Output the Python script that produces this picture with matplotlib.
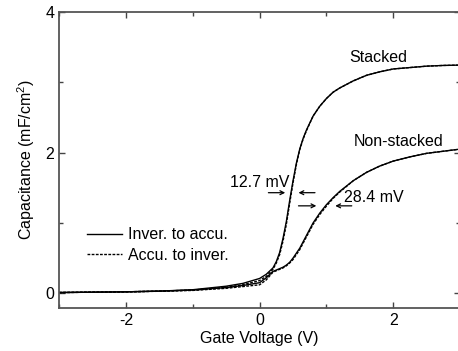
import matplotlib
matplotlib.use("Agg")
import matplotlib.pyplot as plt
from matplotlib.ticker import MultipleLocator

plt.rcParams['font.family'] = ['Liberation Sans', 'DejaVu Sans']
plt.rcParams['mathtext.default'] = 'regular'
plt.rcParams['axes.unicode_minus'] = False

# Gate voltage sweep (V)
voltage = [-3.0, -2.5, -2.0, -1.5, -1.0, -0.5, -0.25, 0.0, 0.1, 0.2, 0.25, 0.3,
           0.35, 0.4, 0.45, 0.5, 0.55, 0.6, 0.65, 0.7, 0.8, 0.9, 1.0, 1.1,
           1.2, 1.4, 1.6, 1.8, 2.0, 2.25, 2.5, 2.75, 3.0]

# Stacked device capacitance (mF/cm^2)
stacked_inv_to_acc = [0.01, 0.015, 0.02, 0.03, 0.05, 0.10, 0.14, 0.21, 0.27, 0.36, 0.45, 0.58,
                      0.78, 1.02, 1.32, 1.60, 1.85, 2.05, 2.20, 2.32, 2.52, 2.66, 2.77, 2.86,
                      2.92, 3.02, 3.10, 3.15, 3.19, 3.21, 3.23, 3.24, 3.245]
stacked_acc_to_inv = [0.01, 0.015, 0.02, 0.03, 0.045, 0.085, 0.12, 0.18, 0.24, 0.34, 0.43, 0.55,
                      0.74, 0.98, 1.28, 1.57, 1.83, 2.04, 2.19, 2.31, 2.52, 2.66, 2.77, 2.86,
                      2.92, 3.02, 3.10, 3.15, 3.19, 3.21, 3.23, 3.24, 3.245]

# Non-stacked device capacitance (mF/cm^2)
nonstacked_inv_to_acc = [0.01, 0.015, 0.02, 0.03, 0.045, 0.08, 0.11, 0.15, 0.22, 0.31, 0.33, 0.35,
                         0.37, 0.40, 0.44, 0.50, 0.57, 0.64, 0.73, 0.82, 1.00, 1.14, 1.26, 1.36,
                         1.45, 1.60, 1.72, 1.81, 1.88, 1.94, 1.99, 2.02, 2.05]
nonstacked_acc_to_inv = [0.01, 0.015, 0.02, 0.028, 0.04, 0.07, 0.095, 0.12, 0.19, 0.30, 0.32, 0.34,
                         0.36, 0.39, 0.43, 0.48, 0.55, 0.62, 0.71, 0.80, 0.98, 1.12, 1.24, 1.35,
                         1.44, 1.60, 1.72, 1.81, 1.88, 1.94, 1.99, 2.02, 2.05]

fig = plt.figure(figsize=(4.58, 3.51), dpi=100)
ax = fig.add_axes([0.1288, 0.1225, 0.876, 0.8433])

ax.plot(voltage, stacked_inv_to_acc, color='black', lw=1.0, ls='-', label='Inver. to accu.')
ax.plot(voltage, stacked_acc_to_inv, color='black', lw=1.0, ls=(0, (2, 1)), label='Accu. to inver.')
ax.plot(voltage, nonstacked_inv_to_acc, color='black', lw=1.0, ls='-')
ax.plot(voltage, nonstacked_acc_to_inv, color='black', lw=1.0, ls=(0, (2, 1)))

ax.set_xlim(-3, 3)
ax.set_ylim(-0.21, 4)
ax.xaxis.set_major_locator(MultipleLocator(2))
ax.xaxis.set_minor_locator(MultipleLocator(1))
ax.yaxis.set_major_locator(MultipleLocator(2))
ax.yaxis.set_minor_locator(MultipleLocator(1))
ax.tick_params(which='both', direction='in', top=True, right=True, labelsize=11.5, colors='#444444',
               labelcolor='black')
ax.tick_params(which='major', length=4, width=1)
ax.tick_params(which='minor', length=3, width=1)
for s in ax.spines.values():
    s.set_color('#555555')
    s.set_linewidth(1.3)

ax.set_xlabel('Gate Voltage (V)', fontsize=11.5, labelpad=2)
ax.set_ylabel('Capacitance (mF/cm$^2$)', fontsize=11.5, labelpad=6)

# Curve labels
ax.text(1.34, 3.36, 'Stacked', fontsize=11.5, ha='left', va='center')
ax.text(1.41, 2.16, 'Non-stacked', fontsize=11.5, ha='left', va='center')

# Hysteresis width annotations
arrow_kw = dict(arrowstyle='->', color='black', lw=0.9, mutation_scale=7)
ax.annotate('', xy=(0.425, 1.43), xytext=(0.09, 1.43), arrowprops=arrow_kw)
ax.annotate('', xy=(0.54, 1.43), xytext=(0.87, 1.43), arrowprops=arrow_kw)
ax.text(0.44, 1.58, '12.7 mV', fontsize=11.5, ha='right', va='center')

ax.annotate('', xy=(0.89, 1.243), xytext=(0.54, 1.243), arrowprops=arrow_kw)
ax.annotate('', xy=(1.09, 1.243), xytext=(1.42, 1.243), arrowprops=arrow_kw)
ax.text(1.26, 1.36, '28.4 mV', fontsize=11.5, ha='left', va='center')

leg = ax.legend(loc='upper left', bbox_to_anchor=(0.05, 0.30), frameon=False, fontsize=11.5,
                handlelength=2.2, handletextpad=0.35, labelspacing=0.35, borderpad=0)

fig.savefig('out.png', dpi=100)
